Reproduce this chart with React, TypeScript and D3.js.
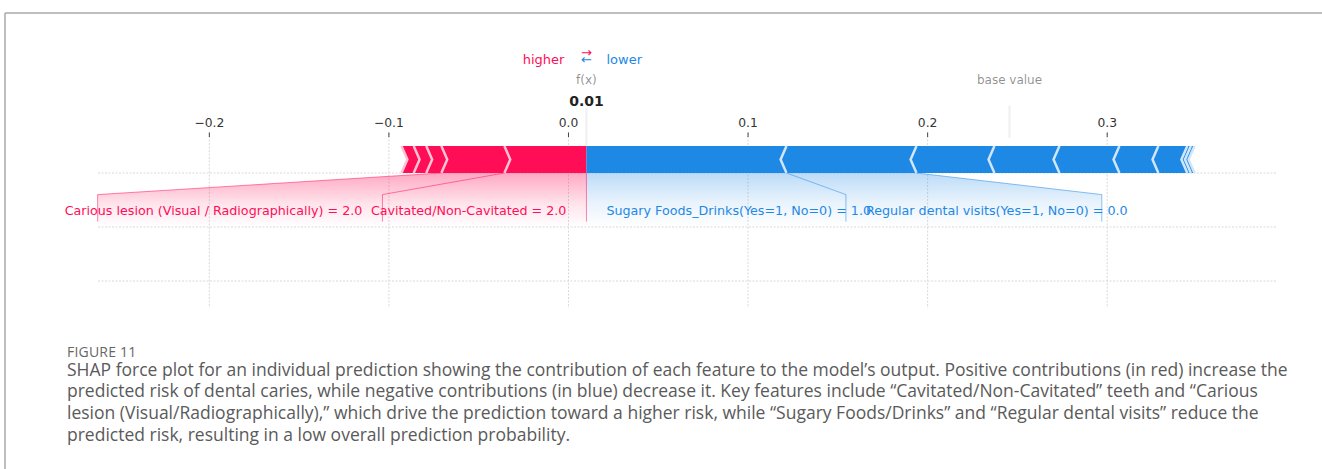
import React from 'react';
import * as d3 from 'd3';

// ---- data ----
const baseValue = 0.2456;
const positiveNames = [
  'Cavitated/Non-Cavitated',
  'Carious lesion (Visual / Radiographically)',
  'feature_p3',
  'feature_p4',
  'feature_p5',
];
const positiveFeatureValues = ['2.0', '2.0', '', '', ''];
const positiveEffects = [0.0457, 0.0351, 0.0084, 0.007, 0.0068];
const positiveLabelElbows = [-0.1036, -0.2622];

const negativeNames = [
  'Sugary Foods_Drinks(Yes=1, No=0)',
  'Regular dental visits(Yes=1, No=0)',
  'feature_n3',
  'feature_n4',
  'feature_n5',
  'feature_n6',
  'feature_n7',
  'feature_n8',
  'feature_n9',
];
const negativeFeatureValues = ['1.0', '0.0', '', '', '', '', '', '', ''];
const negativeEffects = [0.1114, 0.0724, 0.0434, 0.0362, 0.0334, 0.0217, 0.0161, 0.002, 0.002];
const negativeLabelElbows = [0.1545, 0.297];

const xTicks = [-0.2, -0.1, 0.0, 0.1, 0.2, 0.3];
const yGridTicks = [0, -0.2, -0.4];
const xDomain = [-0.262, 0.394];
const yDomain = [0.15, -0.5];

const captionTitle = 'FIGURE 11';
const captionLines = [
  'SHAP force plot for an individual prediction showing the contribution of each feature to the model\u2019s output. Positive contributions (in red) increase the',
  'predicted risk of dental caries, while negative contributions (in blue) decrease it. Key features include \u201cCavitated/Non-Cavitated\u201d teeth and \u201cCarious',
  'lesion (Visual/Radiographically),\u201d which drive the prediction toward a higher risk, while \u201cSugary Foods/Drinks\u201d and \u201cRegular dental visits\u201d reduce the',
  'predicted risk, resulting in a low overall prediction probability.',
];

const RED = '#FF0D57';
const RED_LIGHT = '#FFC3D5';
const BLUE = '#1E88E5';
const BLUE_LIGHT = '#D1E6FA';

export default function App() {
  const W = 1322;
  const H = 469;
  const x = d3.scaleLinear().domain(xDomain).range([98, 1276]);
  const y = d3.scaleLinear().domain(yDomain).range([132.5, 308]);

  const outValue =
    baseValue + d3.sum(positiveEffects) - d3.sum(negativeEffects);
  const fmtTick = d3.format('.1f');
  const fmtOut = d3.format('.2f');

  const sepPx = (x.range()[1] - x.range()[0]) / 200;
  const y0 = y(0);
  const yTop = y(0.1);
  const yMid = y(0.05);
  const ptsStr = (pts: number[][]) => pts.map((p) => p.join(',')).join(' ');

  // positive bars
  const posBars: { poly: string; sep: string }[] = [];
  const posBounds: number[] = [];
  let pre = outValue;
  positiveEffects.forEach((v, i) => {
    const left = pre - v;
    const right = pre;
    pre = left;
    posBounds.push(left);
    const L = x(left);
    const R = x(right);
    let pts: number[][];
    if (i === 0) {
      pts = [[L, y0], [R, y0], [R, yTop], [L, yTop], [L + sepPx, yMid]];
    } else {
      pts = [[L, y0], [R, y0], [R + sepPx * 0.9, yMid], [R, yTop], [L, yTop], [L + sepPx * 0.9, yMid]];
    }
    posBars.push({ poly: ptsStr(pts), sep: ptsStr([[L, y0], [L + sepPx, yMid], [L, yTop]]) });
  });

  const negBars: { poly: string; sep: string }[] = [];
  const negBounds: number[] = [];
  pre = outValue;
  negativeEffects.forEach((v, i) => {
    const left = pre;
    const right = pre + v;
    pre = right;
    negBounds.push(right);
    const L = x(left);
    const R = x(right);
    let pts: number[][];
    if (i === 0) {
      pts = [[R, y0], [L, y0], [L, yTop], [R, yTop], [R - sepPx, yMid]];
    } else {
      pts = [[L, y0], [R, y0], [R - sepPx * 0.9, yMid], [R, yTop], [L, yTop], [L - sepPx * 0.9, yMid]];
    }
    negBars.push({ poly: ptsStr(pts), sep: ptsStr([[R, y0], [R - sepPx, yMid], [R, yTop]]) });
  });

  const offsetPx = 20;
  const yElbow = y(-0.08);
  const yLineEnd = y(-0.18);
  const yText = y(-0.155);
  const yShadeEnd = y(-0.2);

  // positive labels
  const posLabels: { text: string; tx: number; path: string }[] = [];
  let startText = x(outValue);
  positiveLabelElbows.forEach((e, i) => {
    const val = x(posBounds[i]);
    const bx = x(e);
    posLabels.push({
      text: positiveNames[i] + ' = ' + positiveFeatureValues[i],
      tx: startText - offsetPx,
      path: `M${val},${y0} L${bx},${yElbow} L${bx},${yLineEnd}`,
    });
    startText = bx;
  });
  const posLastVal = x(posBounds[positiveLabelElbows.length - 1]);
  const posBoxEnd = x(positiveLabelElbows[positiveLabelElbows.length - 1]);
  const posShade = ptsStr([
    [x(outValue), y0], [posLastVal, y0], [posBoxEnd, yElbow], [posBoxEnd, yShadeEnd], [x(outValue), yShadeEnd],
  ]);

  const negLabels: { text: string; tx: number; path: string }[] = [];
  startText = x(outValue);
  negativeLabelElbows.forEach((e, i) => {
    const val = x(negBounds[i]);
    const bx = x(e);
    negLabels.push({
      text: negativeNames[i] + ' = ' + negativeFeatureValues[i],
      tx: startText + offsetPx,
      path: `M${val},${y0} L${bx},${yElbow} L${bx},${yLineEnd}`,
    });
    startText = bx;
  });
  const negLastVal = x(negBounds[negativeLabelElbows.length - 1]);
  const negBoxEnd = x(negativeLabelElbows[negativeLabelElbows.length - 1]);
  const negShade = ptsStr([
    [x(outValue), y0], [negLastVal, y0], [negBoxEnd, yElbow], [negBoxEnd, yShadeEnd], [x(outValue), yShadeEnd],
  ]);

  const xo = x(outValue);
  const xb = x(baseValue);
  const chartFont = '"DejaVu Sans", sans-serif';
  const capFont = '"Open Sans", sans-serif';

  return (
    <svg
      width={W}
      height={H}
      style={{ position: 'absolute', left: 0, top: 0, background: '#fff' }}
    >
      <defs>
        <linearGradient id="gRed" x1="0" x2="0" y1={y0} y2={yShadeEnd} gradientUnits="userSpaceOnUse">
          <stop offset="0" stopColor={RED} stopOpacity={0.36} />
          <stop offset="0.55" stopColor={RED} stopOpacity={0.12} />
          <stop offset="1" stopColor={RED} stopOpacity={0} />
        </linearGradient>
        <linearGradient id="gBlue" x1="0" x2="0" y1={y0} y2={yShadeEnd} gradientUnits="userSpaceOnUse">
          <stop offset="0" stopColor={BLUE} stopOpacity={0.3} />
          <stop offset="0.55" stopColor={BLUE} stopOpacity={0.1} />
          <stop offset="1" stopColor={BLUE} stopOpacity={0} />
        </linearGradient>
      </defs>

      {/* frame */}
      <line x1={5} x2={W} y1={13} y2={13} stroke="#a8a8a8" strokeWidth={1.5} />
      <line x1={5} x2={5} y1={13} y2={H} stroke="#a8a8a8" strokeWidth={1.5} />

      {/* grid */}
      {yGridTicks.map((t) => (
        <line key={'h' + t} x1={x.range()[0]} x2={x.range()[1]} y1={y(t)} y2={y(t)}
          stroke="#d9d9d9" strokeWidth={1} strokeDasharray="2,1.5" />
      ))}
      {xTicks.map((t) => (
        <g key={'v' + t}>
          <line x1={x(t)} x2={x(t)} y1={y(0.15)} y2={y(-0.5)} stroke="#d9d9d9" strokeWidth={1} strokeDasharray="2,1.5" />
          <line x1={x(t)} x2={x(t)} y1={y(0.15)} y2={y(0.15) + 4.5} stroke="#444" strokeWidth={1} />
          <text x={x(t)} y={127} textAnchor="middle" fontFamily={chartFont} fontSize={12.3} fill="#333">
            {fmtTick(t)}
          </text>
        </g>
      ))}

      {/* base value */}
      <line x1={xb} x2={xb} y1={y(0.13)} y2={y(0.25)} stroke="#EFEFEF" strokeWidth={2} />
      <text x={xb} y={y(0.33)} textAnchor="middle" fontFamily={chartFont} fontSize={12} fill="#000" fillOpacity={0.45}>
        base value
      </text>

      {/* output value */}
      <line x1={xo} x2={xo} y1={y(0)} y2={y(0.24)} stroke="#EFEFEF" strokeWidth={2} />
      <rect x={xo - 18} y={y(0.25) - 12} width={36} height={14} fill="#fff" />
      <text x={xo} y={y(0.25)} textAnchor="middle" fontFamily={chartFont} fontSize={14} fontWeight="bold" fill="#222">
        {fmtOut(outValue)}
      </text>
      <text x={xo} y={y(0.33)} textAnchor="middle" fontFamily={chartFont} fontSize={12} fill="#000" fillOpacity={0.45}>
        f(x)
      </text>

      {/* legend */}
      <text x={xo - 22} y={y(0.405)} textAnchor="end" fontFamily={chartFont} fontSize={13} fill={RED}>higher</text>
      <text x={xo + 20} y={y(0.405)} textAnchor="start" fontFamily={chartFont} fontSize={13} fill={BLUE}>lower</text>
      <text x={xo} y={y(0.43)} textAnchor="middle" fontFamily={chartFont} fontSize={13} fill={RED}>{'\u2192'}</text>
      <text x={xo} y={y(0.405)} textAnchor="middle" fontFamily={chartFont} fontSize={13} fill={BLUE}>{'\u2190'}</text>

      {/* shading */}
      <polygon points={posShade} fill="url(#gRed)" />
      <polygon points={negShade} fill="url(#gBlue)" />

      {/* bars */}
      {posBars.map((b, i) => (
        <polygon key={'pb' + i} points={b.poly} fill={RED} />
      ))}
      {negBars.map((b, i) => (
        <polygon key={'nb' + i} points={b.poly} fill={BLUE} />
      ))}
      {posBars.map((b, i) => (
        <polyline key={'ps' + i} points={b.sep} fill="none" stroke={RED_LIGHT} strokeWidth={2.5} />
      ))}
      {negBars.map((b, i) => (
        <polyline key={'ns' + i} points={b.sep} fill="none" stroke={BLUE_LIGHT} strokeWidth={2.5} />
      ))}

      {/* label lines */}
      <line x1={xo} x2={xo} y1={y0} y2={yLineEnd} stroke={RED} strokeOpacity={0.5} strokeWidth={1} />
      {posLabels.map((l, i) => (
        <g key={'pl' + i}>
          <path d={l.path} fill="none" stroke={RED} strokeOpacity={0.5} strokeWidth={1} />
          <text x={l.tx} y={yText} textAnchor="end" fontFamily={chartFont} fontSize={12.7} fill={RED}>
            {l.text}
          </text>
        </g>
      ))}
      {negLabels.map((l, i) => (
        <g key={'nl' + i}>
          <path d={l.path} fill="none" stroke={BLUE} strokeOpacity={0.5} strokeWidth={1} />
          <text x={l.tx} y={yText} textAnchor="start" fontFamily={chartFont} fontSize={12.7} fill={BLUE}>
            {l.text}
          </text>
        </g>
      ))}

      {/* caption */}
      <text x={67} y={357} fontFamily={capFont} fontSize={14} fill="#666" letterSpacing={0.2}>
        {captionTitle}
      </text>
      {captionLines.map((c, i) => (
        <text key={'c' + i} x={67} y={375.5 + i * 21.8} fontFamily={capFont} fontSize={17.5} fill="#5a5a5a">
          {c}
        </text>
      ))}
    </svg>
  );
}
